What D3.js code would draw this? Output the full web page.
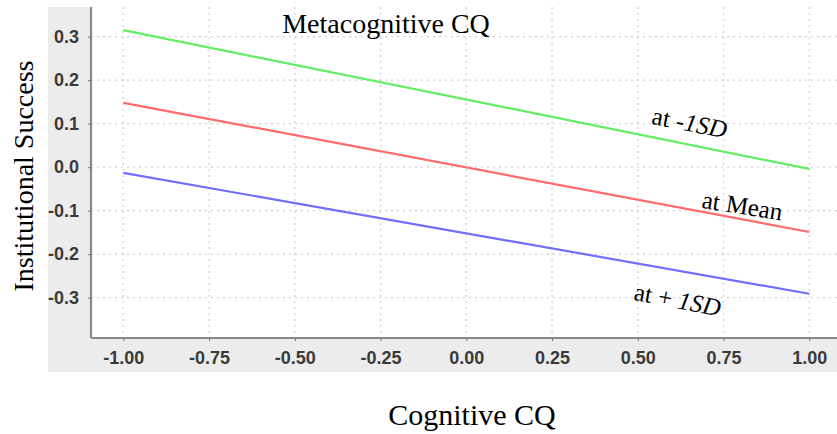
<!DOCTYPE html>
<html><head><meta charset="utf-8">
<script src="https://cdn.jsdelivr.net/npm/d3@7"></script>
<style>body{margin:0;background:#fff}svg{display:block}</style>
</head><body>
<svg id="c" width="837" height="434"></svg>
<script>
const xEnds = [-1, 1];
const seriesNames = ["at -1SD", "at Mean", "at + 1SD"];
const lowSD = [0.315, -0.004];
const meanVals = [0.148, -0.149];
const highSD = [-0.013, -0.291];
const xTicks = [-1, -0.75, -0.5, -0.25, 0, 0.25, 0.5, 0.75, 1];
const yTicks = [-0.3, -0.2, -0.1, 0, 0.1, 0.2, 0.3];
const colors = ["#62ee62", "#ff6a6a", "#6e6eff"];

const svg = d3.select("#c");
const L = 91, R = 837, T = 7, B = 338;
const x = d3.scaleLinear().domain([-1, 1]).range([123.3, 809.3]);
const y = d3.scaleLinear().domain([-0.3, 0.3]).range([297.7, 36.7]);

// gray panel
svg.append("rect").attr("x", 48).attr("y", T).attr("width", R - 48).attr("height", 372 - T).attr("fill", "#ececec");
svg.append("rect").attr("x", L).attr("y", T).attr("width", R - L).attr("height", B - T).attr("fill", "#fff");

// grid
const g = svg.append("g");
g.selectAll(".gx").data(xTicks).enter().append("line")
  .attr("x1", d => x(d)).attr("x2", d => x(d)).attr("y1", T).attr("y2", B)
  .attr("stroke", "#d0d0d0").attr("stroke-width", 1.2).attr("stroke-dasharray", "2,4");
g.selectAll(".gy").data(yTicks).enter().append("line")
  .attr("y1", d => y(d)).attr("y2", d => y(d)).attr("x1", L).attr("x2", R)
  .attr("stroke", "#d0d0d0").attr("stroke-width", 1.2).attr("stroke-dasharray", "2,4");

// axes
const fmtX = d => d3.format(".2f")(d).replace("−", "-");
const fmtY = d => d3.format(".1f")(d).replace("−", "-");
const xAxis = d3.axisBottom(x).tickValues(xTicks).tickFormat(fmtX).tickSize(3).tickSizeOuter(0);
const yAxis = d3.axisLeft(y).tickValues(yTicks).tickFormat(fmtY).tickSize(3).tickSizeOuter(0);
const gx = svg.append("g").attr("transform", `translate(0,${B})`).call(xAxis);
const gy = svg.append("g").attr("transform", `translate(${L},0)`).call(yAxis);
gx.select(".domain").attr("d", `M${L},0H${R}`);
gy.select(".domain").attr("d", `M0,${T}V${B}`);
[gx, gy].forEach(a => {
  a.select(".domain").attr("stroke", "#8a8a8a").attr("stroke-width", 2.2);
  a.selectAll(".tick line").attr("stroke", "#777");
  a.selectAll(".tick text").attr("font-family", "Liberation Sans, Arial, sans-serif")
    .attr("font-size", 18).attr("font-weight", "bold").attr("fill", "#3a3a3a");
});
gx.selectAll(".tick text").attr("y", 13).attr("dy", "0.71em");
gy.selectAll(".tick text").attr("x", -12);

// lines
const data = [lowSD, meanVals, highSD];
const line = d3.line().x((d, i) => x(xEnds[i])).y(d => y(d));
svg.selectAll(".ln").data(data).enter().append("path")
  .attr("d", d => line(d)).attr("fill", "none")
  .attr("stroke", (d, i) => colors[i]).attr("stroke-width", 2.2);

// labels
const serif = "Liberation Serif, Times New Roman, serif";
svg.append("text").attr("x", 386).attr("y", 33).attr("text-anchor", "middle")
  .attr("font-family", serif).attr("font-size", 28).text("Metacognitive CQ");
const lab = [
  {t: ["at -", "1SD"], x: 688, y: 131, r: 11},
  {t: ["at Mean", ""], x: 741, y: 214, r: 9},
  {t: ["at + ", "1SD"], x: 676, y: 308, r: 11}
];
lab.forEach(l => {
  const t = svg.append("text").attr("transform", `translate(${l.x},${l.y}) rotate(${l.r})`)
    .attr("text-anchor", "middle").attr("font-family", serif).attr("font-size", 25);
  t.append("tspan").text(l.t[0]);
  if (l.t[1]) t.append("tspan").attr("font-style", "italic").text(l.t[1]);
});
svg.append("text").attr("transform", "translate(33,176) rotate(-90)").attr("text-anchor", "middle")
  .attr("font-family", serif).attr("font-size", 28).text("Institutional Success");
svg.append("text").attr("x", 472).attr("y", 425).attr("text-anchor", "middle")
  .attr("font-family", serif).attr("font-size", 30).text("Cognitive CQ");
</script>
</body></html>
